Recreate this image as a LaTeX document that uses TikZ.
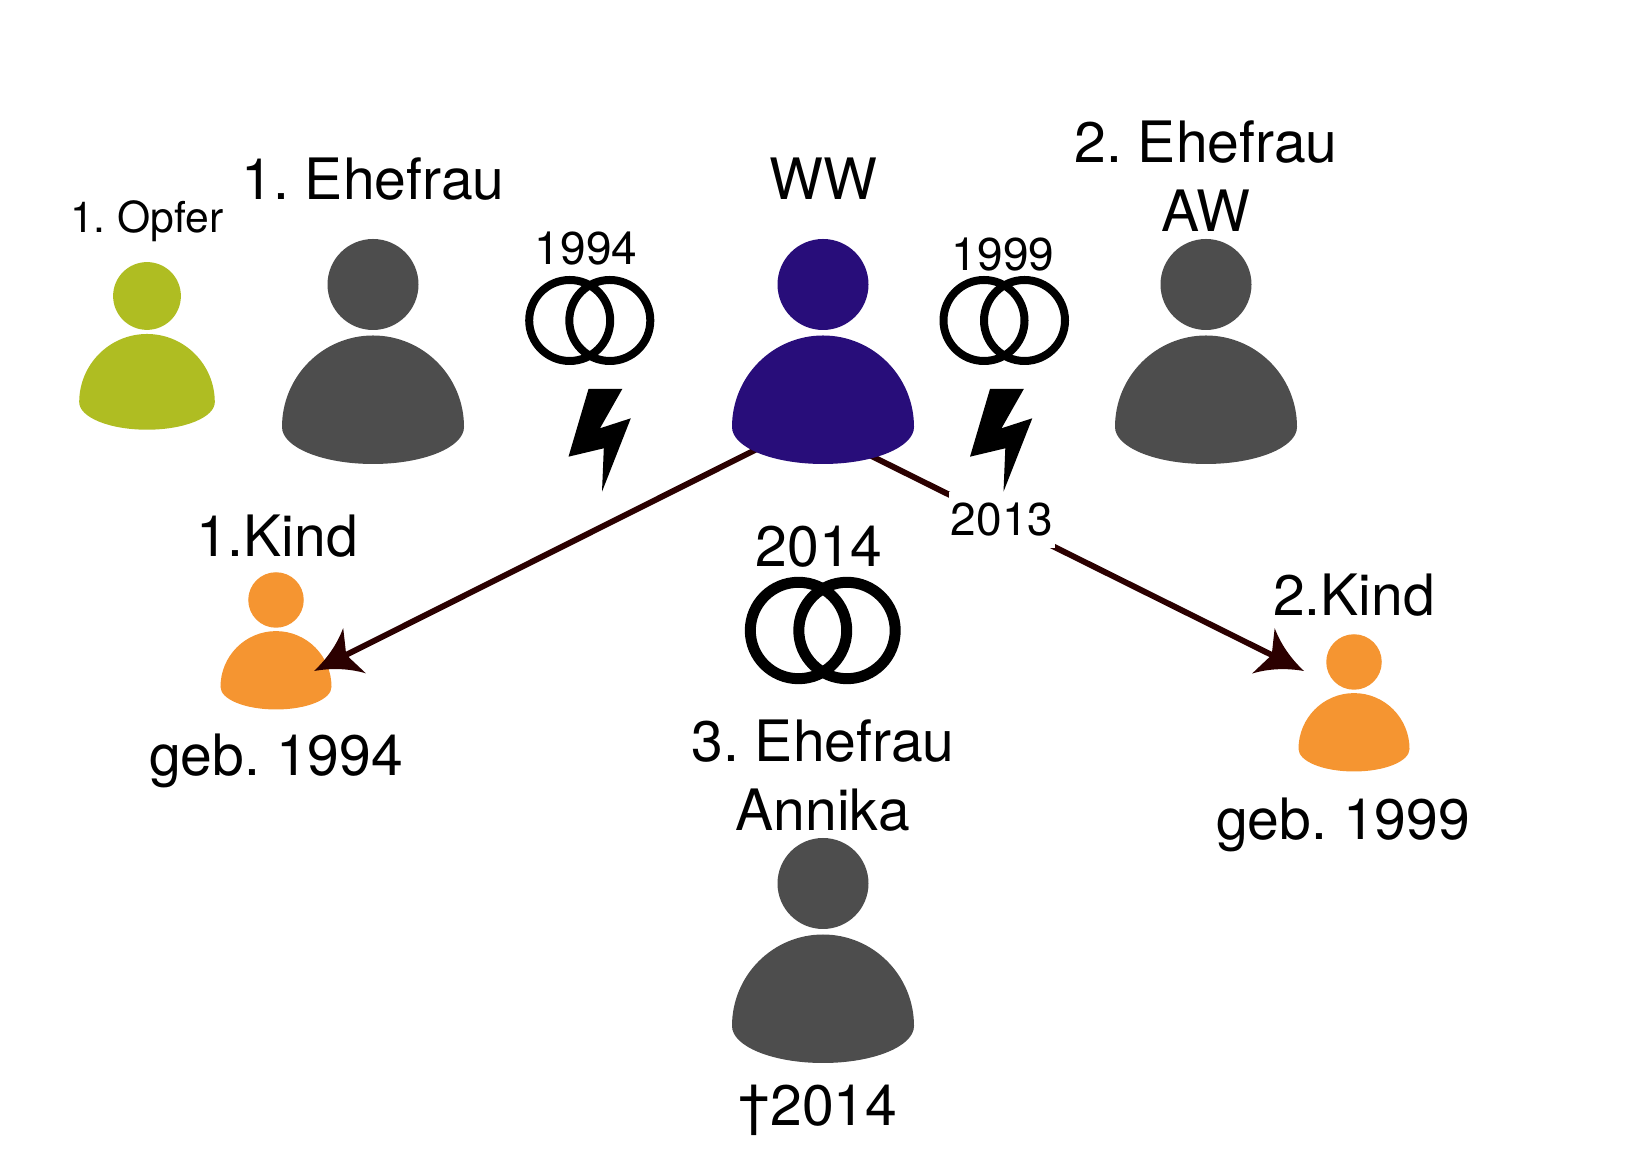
\documentclass[tikz,border=0pt]{standalone}
\usepackage{fontspec}
\setmainfont{TeX Gyre Heros}
\frenchspacing
\usetikzlibrary{arrows.meta}
\definecolor{wwblue}{RGB}{40,13,122}
\definecolor{wifegray}{RGB}{77,77,77}
\definecolor{victimgreen}{RGB}{175,189,34}
\definecolor{kidorange}{RGB}{245,149,49}
\definecolor{linebrown}{RGB}{43,0,0}
\pgfdeclarearrow{
  name=Swept,
  setup code={\pgfarrowssettipend{0pt}\pgfarrowssetlineend{-25pt}\pgfarrowssetvisualbackend{-27pt}\pgfarrowssetbackend{-34pt}},
  drawing code={
    \pgfpathmoveto{\pgfqpoint{0pt}{0pt}}
    \pgfpathquadraticcurveto{\pgfqpoint{-20pt}{6pt}}{\pgfqpoint{-34pt}{19pt}}
    \pgfpathquadraticcurveto{\pgfqpoint{-30pt}{8pt}}{\pgfqpoint{-27pt}{0pt}}
    \pgfpathquadraticcurveto{\pgfqpoint{-30pt}{-8pt}}{\pgfqpoint{-34pt}{-19pt}}
    \pgfpathquadraticcurveto{\pgfqpoint{-20pt}{-6pt}}{\pgfqpoint{0pt}{0pt}}
    \pgfpathclose\pgfusepathqfill
  }
}
\tikzset{
  person/.pic={
    \path[pic actions] (0,0) circle[radius=45.5];
    \path[pic actions] (-91,-142.5) arc[start angle=180,end angle=0,x radius=91,y radius=91.5]
      arc[start angle=0,end angle=-180,x radius=91,y radius=37] -- cycle;
  },
  bolt/.pic={
    \fill[black] (0,0) -- (33.8,0) -- (11.5,-39.3) -- (42.3,-29.3) -- (13.5,-102.7)
      -- (15.3,-59.3) -- (-20,-67.7) -- cycle;
  }
}
\begin{document}
\begin{tikzpicture}[x=.75pt,y=.75pt,
    big/.style={font=\fontsize{42.8}{51.75}\selectfont,anchor=base,inner sep=0pt},
    mid/.style={font=\fontsize{34.5}{41}\selectfont,anchor=base,inner sep=0pt},
    small/.style={font=\fontsize{32}{38}\selectfont,anchor=base,inner sep=0pt},
    ring/.style={draw=black,line width=6pt},
    bigring/.style={draw=black,line width=8.25pt},
    child/.style={-Swept,linebrown,line width=4.4pt}]
  \useasboundingbox (0,0) rectangle (1634,1166);
  % children sit under the arrows
  \pic[fill=kidorange,scale=.61] at (276,566) {person};
  \pic[fill=kidorange,scale=.61] at (1354,504) {person};
  \coordinate (wwleft) at (823,750);
  \coordinate (wwright) at (823,734);
  \coordinate (kidone) at (314,495);
  \coordinate (kidtwo) at (1304,495);
  \draw[child] (wwleft) -- (kidone);
  \draw[child] (wwright) -- (kidtwo);
  \node[mid,fill=white,anchor=center,minimum width=80pt,minimum height=42pt] (split) at (1002,646) {2013};
  % people
  \pic[fill=victimgreen,scale=.745] at (147,870) {person};
  \pic[fill=wifegray] at (373,881.5) {person};
  \pic[fill=wwblue] at (823,881.5) {person};
  \pic[fill=wifegray] at (1206,881.5) {person};
  \pic[fill=wifegray] at (823,282.5) {person};
  % rings and bolts
  \draw[ring] (569.7,845.5) circle[radius=40.5];
  \draw[ring] (609.8,845.5) circle[radius=40.5];
  \draw[ring] (984,845.5) circle[radius=40.5];
  \draw[ring] (1024.5,845.5) circle[radius=40.5];
  \draw[bigring] (798.5,535.5) circle[radius=48.2];
  \draw[bigring] (847,535.5) circle[radius=48.2];
  \pic at (588.5,777) {bolt};
  \pic at (990,777) {bolt};
  % labels
  \node[small] (opfer) at (147,933) {1. Opfer};
  \node[big] (first) at (373,966) {1. Ehefrau};
  \node[big] (ww) at (823,966) {WW};
  \node[big,anchor=center,align=center] (second) at (1206,990) {2. Ehefrau\\AW};
  \node[mid] (yearone) at (586,901) {1994};
  \node[mid] (yeartwo) at (1003,895) {1999};
  \node[big] (kidonelabel) at (277,609) {1.Kind};
  \node[big] (bornone) at (276,390) {geb. 1994};
  \node[big] (yearthree) at (819,599) {2014};
  \node[big,anchor=center,align=center] (third) at (823,390) {3. Ehefrau\\Annika};
  \node[big] (kidtwolabel) at (1354,550) {2.Kind};
  \node[big] (borntwo) at (1343,326) {geb. 1999};
  \node[big] (died) at (818,40) {†2014};
\end{tikzpicture}
\end{document}
